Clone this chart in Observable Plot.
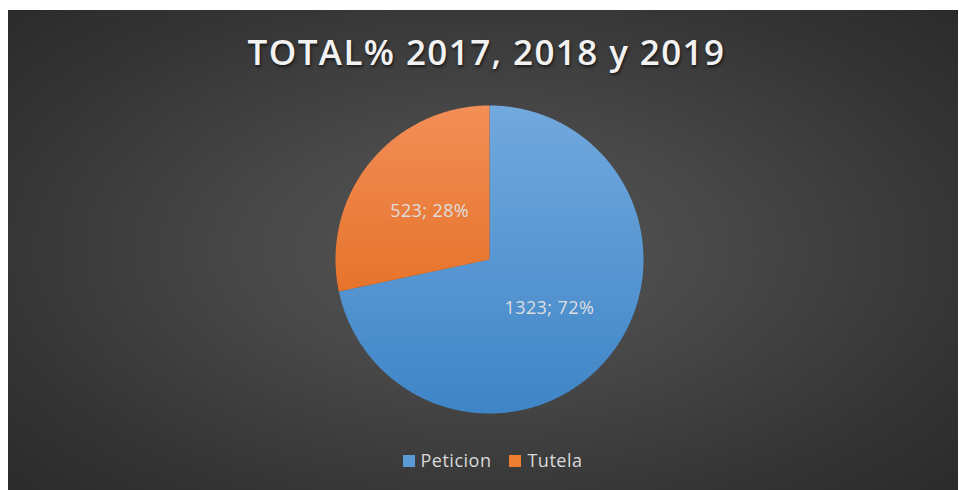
<!DOCTYPE html>
<html>
<head>
<meta charset="utf-8">
<script src="https://cdn.jsdelivr.net/npm/d3@7"></script>
<script src="https://cdn.jsdelivr.net/npm/@observablehq/plot@0.6"></script>
<style>
  html, body { margin: 0; padding: 0; background: #ffffff; }
  #wrap { position: relative; width: 959px; height: 490px; overflow: hidden; }
  #bg { position: absolute; left: 8px; top: 10px; width: 950px; height: 480px;
        background: radial-gradient(ellipse 70% 75% at 50% 50%, #555555 0%, #484848 35%, #343434 75%, #2a2a2a 100%); }
  #chart { position: absolute; left: 0; top: 0; }
  #title { position: absolute; left: 0; width: 973px; top: 28px; text-align: center;
           font-family: "Open Sans", sans-serif; font-weight: 600; font-size: 35px; letter-spacing: 1.4px;
           color: #f2f2f2; text-shadow: 1px 2px 3px rgba(0,0,0,0.6); white-space: nowrap; }
  #legend { position: absolute; left: 5px; width: 975px; top: 448px; text-align: center;
            font-family: "Open Sans", sans-serif; font-size: 18px; letter-spacing: 0.5px; color: #d9d9d9; white-space: nowrap; }
  .item { display: inline-block; margin: 0 9px; }
  .sw { display: inline-block; width: 12px; height: 12px; margin-right: 6px; vertical-align: 0px; }
</style>
</head>
<body>
<div id="wrap">
  <div id="bg"></div>
  <div id="chart"></div>
  <div id="title"></div>
  <div id="legend"></div>
</div>
<script>
const titleText = "TOTAL% 2017, 2018 y 2019";
const categories = ["Peticion", "Tutela"];
const values = [1323, 523];
const percents = [72, 28];
const colorTop = ["#72a9de", "#f28e57"];
const colorBottom = ["#3e85c7", "#df620e"];
const legendColors = ["#5b9bd5", "#ed7d31"];

const data = categories.map((name, i) => ({name, value: values[i], pct: percents[i], i}));

const pie = d3.pie().value(d => d.value).sort(null);
const arcs = pie(data);

// geometry of each slice outline in unit coordinates (x right, y up, angle clockwise from top)
const slicePts = arcs.map(a => {
  const pts = [{x: 0, y: 0}];
  const n = Math.max(2, Math.ceil((a.endAngle - a.startAngle) / 0.01));
  for (let k = 0; k <= n; k++) {
    const t = a.startAngle + (a.endAngle - a.startAngle) * k / n;
    pts.push({x: Math.sin(t), y: Math.cos(t)});
  }
  pts.push({x: 0, y: 0});
  return pts;
});

const labels = arcs.map(a => {
  const m = (a.startAngle + a.endAngle) / 2;
  return {x: 0.5 * Math.sin(m), y: 0.5 * Math.cos(m), text: `${a.data.value}; ${a.data.pct}%`};
});

const cx = 489, cy = 259, r = 154;

const defs = () => {
  const ns = "http://www.w3.org/2000/svg";
  const d = document.createElementNS(ns, "defs");
  categories.forEach((c, i) => {
    const g = document.createElementNS(ns, "linearGradient");
    g.setAttribute("id", "grad" + i);
    g.setAttribute("gradientUnits", "userSpaceOnUse");
    g.setAttribute("x1", 0); g.setAttribute("x2", 0);
    g.setAttribute("y1", cy - r); g.setAttribute("y2", cy + r);
    [[0, colorTop[i]], [1, colorBottom[i]]].forEach(([o, col]) => {
      const s = document.createElementNS(ns, "stop");
      s.setAttribute("offset", o);
      s.setAttribute("stop-color", col);
      g.appendChild(s);
    });
    d.appendChild(g);
  });
  return d;
};

const chart = Plot.plot({
  width: 959,
  height: 490,
  margin: 0,
  style: {background: "transparent", overflow: "visible"},
  x: {domain: [-1, 1], range: [cx - r, cx + r], axis: null},
  y: {domain: [-1, 1], range: [cy + r, cy - r], axis: null},
  marks: [
    defs,
    ...slicePts.map((pts, i) => Plot.line(pts, {x: "x", y: "y", fill: `url(#grad${i})`, stroke: "none", curve: "linear"})),
    Plot.text(labels, {x: "x", y: "y", text: "text", fill: "#dedede", fontSize: 18, fontFamily: "Open Sans"})
  ]
});
document.getElementById("chart").appendChild(chart);
chart.querySelectorAll("text").forEach(t => t.setAttribute("letter-spacing", "0.4"));

document.getElementById("title").textContent = titleText;
const leg = document.getElementById("legend");
categories.forEach((c, i) => {
  const item = document.createElement("span");
  item.className = "item";
  const sw = document.createElement("span");
  sw.className = "sw";
  sw.style.background = legendColors[i];
  item.appendChild(sw);
  item.appendChild(document.createTextNode(c));
  leg.appendChild(item);
});
</script>
</body>
</html>
